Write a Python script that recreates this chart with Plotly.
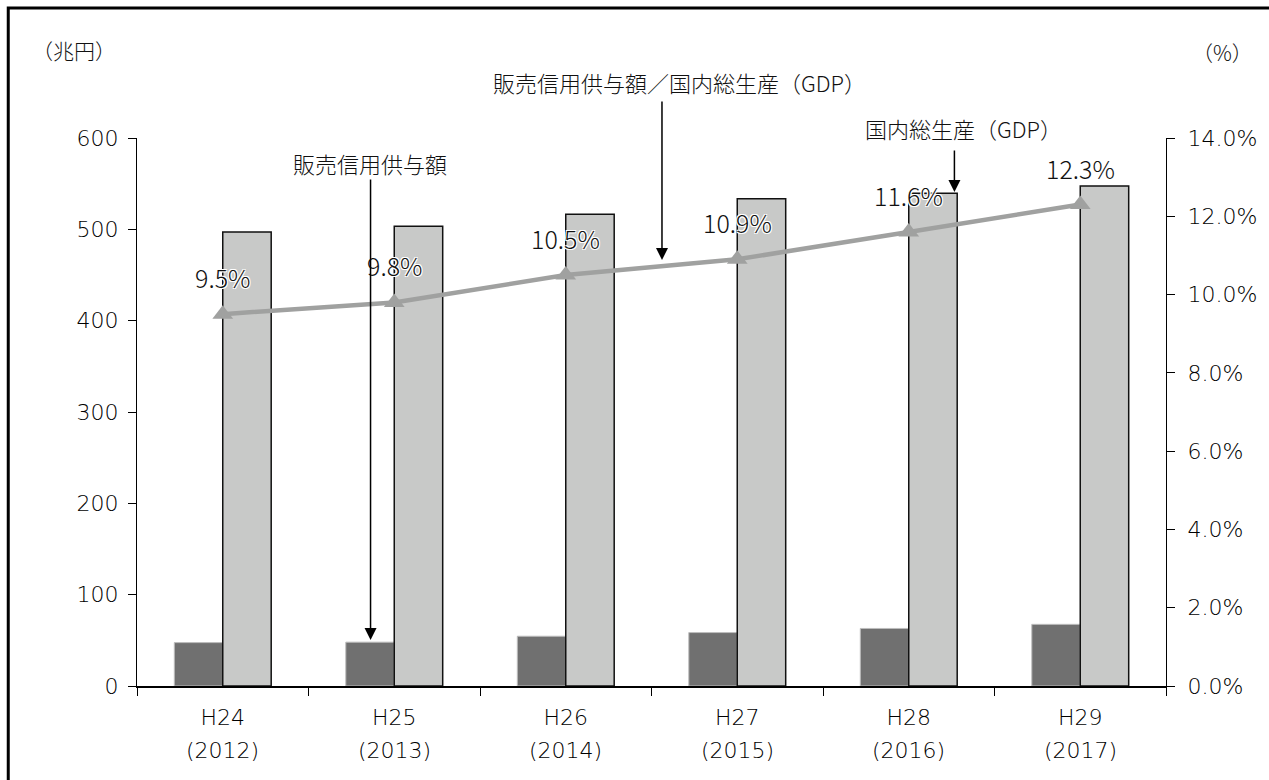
import plotly.graph_objects as go

categories = ["H24", "H25", "H26", "H27", "H28", "H29"]
years = ["(2012)", "(2013)", "(2014)", "(2015)", "(2016)", "(2017)"]
credit = [47.5, 48.0, 54.5, 58.5, 63.0, 67.5]          # 販売信用供与額 (兆円)
gdp = [497.0, 503.5, 516.5, 533.5, 539.5, 547.5]        # 国内総生産 (兆円)
ratio = [0.095, 0.098, 0.105, 0.109, 0.116, 0.123]      # 販売信用供与額／GDP
ratio_labels = ["9.5%", "9.8%", "10.5%", "10.9%", "11.6%", "12.3%"]

FONT = "Noto Sans CJK JP"
NUMFONT = "DejaVu Sans, Noto Sans CJK JP"
TXT = "#111111"
NUMC = "#000000"
NUMW = 300

fig = go.Figure()
fig.add_trace(go.Bar(x=categories, y=credit, name="販売信用供与額",
                     marker=dict(color="#707070", line=dict(color="#bdbdbd", width=1))))
fig.add_trace(go.Bar(x=categories, y=gdp, name="国内総生産（GDP）",
                     marker=dict(color="#c8c9c8", line=dict(color="#111111", width=1.5))))
fig.add_trace(go.Scatter(x=categories, y=ratio, yaxis="y2", mode="lines+markers",
                         name="販売信用供与額／国内総生産（GDP）",
                         line=dict(color="#a0a1a0", width=4.5),
                         marker=dict(symbol="triangle-up", size=18, color="#a0a1a0")))

halo = "1px 1px 0 white, -1px -1px 0 white, 1px -1px 0 white, -1px 1px 0 white"
annotations = []
for c, r, lab in zip(categories, ratio, ratio_labels):
    annotations.append(dict(x=c, y=r, yref="y2", text=lab, showarrow=False, yshift=37,
                            xanchor="center", yanchor="middle",
                            font=dict(family=FONT, size=25, color=TXT, shadow=halo, weight=300)))

# second line of the category labels
for c, yr in zip(categories, years):
    annotations.append(dict(x=c, y=0, yref="y", text=yr, showarrow=False, yshift=-64,
                            xanchor="center", yanchor="middle",
                            font=dict(family=NUMFONT, size=22, color=NUMC, weight=NUMW)))

# axis unit labels
annotations.append(dict(xref="paper", yref="paper", x=-0.0611, y=1.1606, text="（兆円）",
                        xanchor="center", yanchor="middle", showarrow=False,
                        font=dict(family=FONT, size=21, color=TXT, weight=300)))
annotations.append(dict(xref="paper", yref="paper", x=1.0553, y=1.157, text="（%）",
                        xanchor="center", yanchor="middle", showarrow=False,
                        font=dict(family=FONT, size=21, color=TXT, weight=300)))


def px_x(p):
    return (p - 137) / 1031.0


def px_y(p):
    return (686 - p) / 548.0


callouts = [
    ("販売信用供与額", 370, 163, 371, 178, 640),
    ("販売信用供与額／国内総生産（GDP）", 681, 82, 663, 100, 260),
    ("国内総生産（GDP）", 965, 128, 956, 149, 192),
]
for text, tx, ty, ax_, y_tail, y_tip in callouts:
    annotations.append(dict(xref="paper", yref="paper", x=px_x(tx), y=px_y(ty), text=text,
                            xanchor="center", yanchor="middle", showarrow=False,
                            font=dict(family=FONT, size=22, color=TXT, weight=300)))
    annotations.append(dict(xref="paper", yref="paper", x=px_x(ax_), y=px_y(y_tip), text="",
                            showarrow=True, axref="pixel", ayref="pixel", ax=0,
                            ay=-(y_tip - y_tail), arrowhead=2, arrowsize=1.6,
                            arrowwidth=1.5, arrowcolor="#000000"))

fig.update_layout(
    width=1269, height=780,
    margin=dict(l=137, r=101, t=138, b=94),
    paper_bgcolor="white", plot_bgcolor="white",
    barmode="group", bargap=0.435, bargroupgap=0,
    showlegend=False, hovermode=False,
    font=dict(family=FONT, size=22, color=TXT),
    xaxis=dict(type="category", showline=True, linecolor="#000000", linewidth=1.5,
               ticks="outside", tickson="boundaries", ticklen=8, tickcolor="#000000",
               ticklabelstandoff=11,
               tickfont=dict(family=NUMFONT, size=22, color=NUMC, weight=NUMW), showgrid=False),
    yaxis=dict(range=[0, 600], dtick=100, showline=True, linecolor="#000000", linewidth=1,
               ticks="outside", ticklen=8, tickcolor="#000000", showgrid=False, zeroline=False,
               ticklabelstandoff=5,
               tickfont=dict(family=NUMFONT, size=22, color=NUMC, weight=NUMW)),
    yaxis2=dict(range=[0, 0.14], dtick=0.02, tickformat=".1%", overlaying="y", side="right",
                showline=True, linecolor="#000000", linewidth=1, ticks="outside", ticklen=8,
                tickcolor="#000000", showgrid=False, zeroline=False, ticklabelstandoff=8,
                tickfont=dict(family=NUMFONT, size=22, color=NUMC, weight=NUMW)),
    annotations=annotations,
    shapes=[dict(type="rect", xref="paper", yref="paper", x0=px_x(8), x1=px_x(1300),
                 y0=px_y(820), y1=px_y(8), line=dict(color="#000000", width=3),
                 fillcolor="rgba(0,0,0,0)", layer="above")],
)

fig.write_html("out.html", config={"displayModeBar": False},
               post_script="document.body.style.margin='0';document.body.style.overflow='hidden';")
